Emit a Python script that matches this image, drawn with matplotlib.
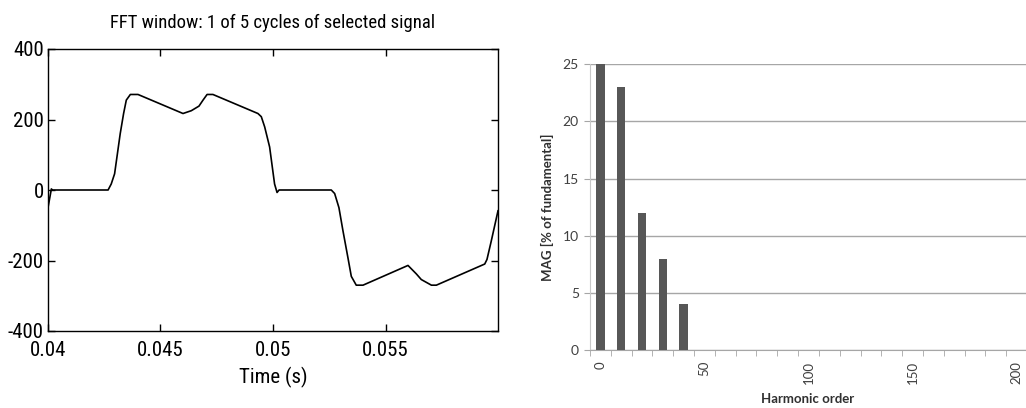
import numpy as np
import matplotlib
matplotlib.use("Agg")
import matplotlib.pyplot as plt
from matplotlib import font_manager
from matplotlib.ticker import FixedLocator

plt.rcParams["axes.unicode_minus"] = False

# ---- left panel: one cycle of the selected signal ----
t_s = [0.04, 0.04015, 0.0402, 0.04267, 0.04281, 0.04296, 0.04321, 0.04336,
       0.04348, 0.04366, 0.044, 0.046, 0.04637, 0.04671, 0.04689, 0.04707,
       0.04733, 0.04933, 0.04948, 0.04963, 0.04985, 0.05007, 0.05018, 0.05027,
       0.05259, 0.05274, 0.05293, 0.05311, 0.05333, 0.05348, 0.0537, 0.054,
       0.056, 0.05637, 0.05659, 0.05704, 0.05726, 0.05941, 0.05951, 0.0597,
       0.06]
signal = [-50, 3, 0, 0, 17, 46, 160, 217, 255, 271, 271, 217, 225, 238, 255,
          271, 271, 217, 208, 179, 122, 17, -7, 0, 0, -10, -50, -116, -192,
          -245, -270, -270, -214, -238, -254, -270, -270, -210, -197, -145,
          -59]
time_ticks = [0.04, 0.045, 0.05, 0.055]
time_labels = ["0.04", "0.045", "0.05", "0.055"]
amp_ticks = [-400, -200, 0, 200, 400]

# ---- right panel: harmonic spectrum ----
harm_order = [0, 10, 20, 30, 40]
harm_mag = [25, 23, 12, 8, 4]
harm_ticks = [0, 50, 100, 150, 200]
mag_ticks = [0, 5, 10, 15, 20, 25]

# pick a condensed face if one is around, MATLAB labels are narrow
installed = {f.name for f in font_manager.fontManager.ttflist}
narrow_pick = [n for n in ("Liberation Sans Narrow", "DejaVu Sans Condensed",
                           "Roboto Condensed") if n in installed]
if narrow_pick:
    narrow = [narrow_pick[0], "DejaVu Sans"]
    fs_tick, fs_title = 15, 13.5
else:
    narrow = ["Roboto", "DejaVu Sans"]
    fs_tick, fs_title = 13, 13
calib = ["Lato", "DejaVu Sans"]

fig = plt.figure(figsize=(10.26, 4.08), dpi=100)

# left: MATLAB-style FFT window
ax1 = fig.add_axes([48 / 1026, 1 - 331 / 408, 450 / 1026, 282 / 408])
ax1.plot(t_s, signal, color="black", lw=1.2)
ax1.set_xlim(0.04, 0.06)
ax1.set_ylim(-400, 400)
ax1.set_xticks(time_ticks)
ax1.set_xticklabels(time_labels)
ax1.set_yticks(amp_ticks)
ax1.tick_params(direction="in", top=True, right=True, length=5, width=1,
                labelsize=fs_tick)
ax1.tick_params(axis="x", pad=7)
ax1.tick_params(axis="y", pad=3)
for lab in ax1.get_xticklabels() + ax1.get_yticklabels():
    lab.set_family(narrow)
for sp in ax1.spines.values():
    sp.set_linewidth(1.0)
ax1.set_xlabel("Time (s)", fontsize=fs_tick, family=narrow, labelpad=5)
ax1.set_title("FFT window: 1 of 5 cycles of selected signal", fontsize=fs_title,
              family=narrow, pad=15)

# right: Excel-style column chart
ax2 = fig.add_axes([590 / 1026, 1 - 350 / 408, 436 / 1026, 285.7 / 408])
ax2.bar(harm_order, harm_mag, width=4, color="#575757", zorder=3)
ax2.set_xlim(-5, 204.5)
ax2.set_ylim(0, 25)
ax2.set_yticks(mag_ticks)
ax2.yaxis.grid(True, color="#a6a6a6", lw=1.0, zorder=0)
ax2.set_axisbelow(True)
ax2.xaxis.set_major_locator(FixedLocator(harm_ticks))
ax2.xaxis.set_minor_locator(FixedLocator(np.arange(-5, 205, 10)))
ax2.set_xticklabels([str(v) for v in harm_ticks], rotation=90, va="top",
                    ha="center", fontsize=9.5, color="#404040", family=calib)
ax2.tick_params(axis="x", which="major", length=0, pad=8)
ax2.tick_params(axis="x", which="minor", length=4, color="#a6a6a6")
ax2.tick_params(axis="y", length=4, color="#a6a6a6", labelsize=10,
                labelcolor="#404040", pad=4)
for lab in ax2.get_yticklabels():
    lab.set_family(calib)
for side in ("top", "right"):
    ax2.spines[side].set_visible(False)
ax2.spines["left"].set_color("#c8c8c8")
ax2.spines["bottom"].set_color("#a6a6a6")
ax2.set_ylabel("MAG [% of fundamental]", fontsize=9.5, fontweight="bold",
               color="#303030", family=calib, labelpad=6)
ax2.set_xlabel("Harmonic order", fontsize=9.5, fontweight="bold",
               color="#303030", family=calib, labelpad=6)

fig.savefig("out.png", dpi=100)
